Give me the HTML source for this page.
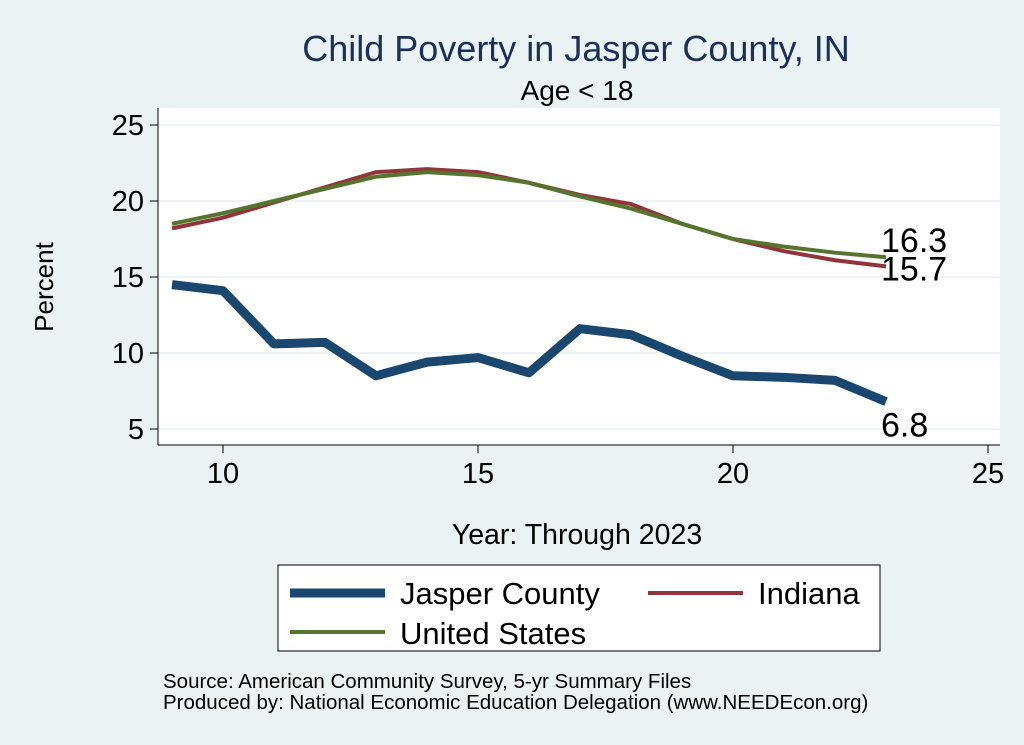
<!DOCTYPE html>
<html><head><meta charset="utf-8"><style>
body{margin:0;background:#eaf2f3;}
svg{display:block;font-family:"Liberation Sans",Arial,sans-serif;}
</style></head><body>
<svg id="chart" width="1024" height="745" viewBox="0 0 1024 745" xmlns="http://www.w3.org/2000/svg">
<rect width="1024" height="745" fill="#eaf2f3"/>
<text x="576" y="61" font-size="36" fill="#1a2f5a" text-anchor="middle">Child Poverty in Jasper County, IN</text>
<text x="577" y="100" font-size="28" fill="#000" text-anchor="middle">Age &lt; 18</text>
<rect x="158" y="108" width="842" height="337" fill="#fff"/>
<g id="grid"></g>
<g id="axes"></g>
<g id="series"></g>
<text x="53" y="287" font-size="26" text-anchor="middle" transform="rotate(-90 53 287)">Percent</text>
<text x="577" y="544" font-size="28.5" text-anchor="middle">Year: Through 2023</text>
<g>
<rect x="278" y="565" width="602" height="86" fill="#fff" stroke="#000" stroke-width="1"/>
<line x1="290" y1="593" x2="385" y2="593" stroke="#1a476f" stroke-width="9"/>
<text x="400" y="604" font-size="31">Jasper County</text>
<line x1="648" y1="593" x2="743" y2="593" stroke="#90353b" stroke-width="4"/>
<text x="758" y="604" font-size="31">Indiana</text>
<line x1="290" y1="632" x2="385" y2="632" stroke="#55752f" stroke-width="4"/>
<text x="400" y="644" font-size="31">United States</text>
</g>
<text x="163" y="688" font-size="20.5">Source: American Community Survey, 5-yr Summary Files</text>
<text x="163" y="709" font-size="20.5">Produced by: National Economic Education Delegation (www.NEEDEcon.org)</text>
</svg>
<script>
const years=[9,10,11,12,13,14,15,16,17,18,19,20,21,22,23];
const jasper=[14.5,14.1,10.6,10.7,8.5,9.4,9.7,8.7,11.6,11.2,9.8,8.5,8.4,8.2,6.8];
const indiana=[18.2,18.9,19.9,20.9,21.9,22.1,21.9,21.2,20.4,19.8,18.5,17.5,16.7,16.1,15.7];
const us=[18.5,19.2,20.0,20.8,21.6,21.9,21.7,21.2,20.3,19.5,18.5,17.5,17.0,16.6,16.3];
const xTicks=[10,15,20,25];
const yTicks=[5,10,15,20,25];
const NS="http://www.w3.org/2000/svg";
const xs=v=>223+(v-10)*51;
const ys=v=>429-(v-5)*15.2;
function mk(tag,attrs,parent){const e=document.createElementNS(NS,tag);for(const k in attrs)e.setAttribute(k,attrs[k]);parent.appendChild(e);return e;}
const grid=document.getElementById('grid'),axes=document.getElementById('axes'),ser=document.getElementById('series');
yTicks.forEach(t=>{
 const g=mk('line',{x1:158,x2:1000,y1:ys(t),y2:ys(t),stroke:'#eaf2f3','stroke-width':1.5},grid);
 
 
 const tk=mk('line',{x1:150,x2:158,y1:ys(t),y2:ys(t),stroke:'#000'},axes);
 
 
 const l=mk('text',{x:144,y:ys(t)+10,'font-size':29,'text-anchor':'end'},axes);l.textContent=t;
 
 
});
xTicks.forEach(t=>{
 const tk=mk('line',{x1:xs(t),x2:xs(t),y1:445,y2:453,stroke:'#000'},axes);
 
 
 const l=mk('text',{x:xs(t),y:483,'font-size':29,'text-anchor':'middle'},axes);l.textContent=t;
 
 
});
const ya=mk('line',{x1:158,x2:158,y1:108,y2:445,stroke:'#000'},axes);


const xa=mk('line',{x1:158,x2:1000,y1:445,y2:445,stroke:'#000'},axes);


function line(vals,color,w,name){
 const p=mk('polyline',{points:years.map((y,i)=>xs(y)+','+ys(vals[i])).join(' '),fill:'none',stroke:color,'stroke-width':w,'stroke-linejoin':'round'},ser);
 
 
}
line(indiana,'#90353b',4,'line-indiana');
line(us,'#55752f',4,'line-us');
line(jasper,'#1a476f',9,'line-jasper');
const n=years.length-1;
[[us,-5,'label-us'],[indiana,14,'label-indiana'],[jasper,35,'label-jasper']].forEach(([v,dy,name])=>{
 const t=mk('text',{x:xs(years[n])-5,y:ys(v[n])+dy,'font-size':34},ser);
 t.textContent=v[n].toFixed(1);
 
 
});
</script>
</body></html>
